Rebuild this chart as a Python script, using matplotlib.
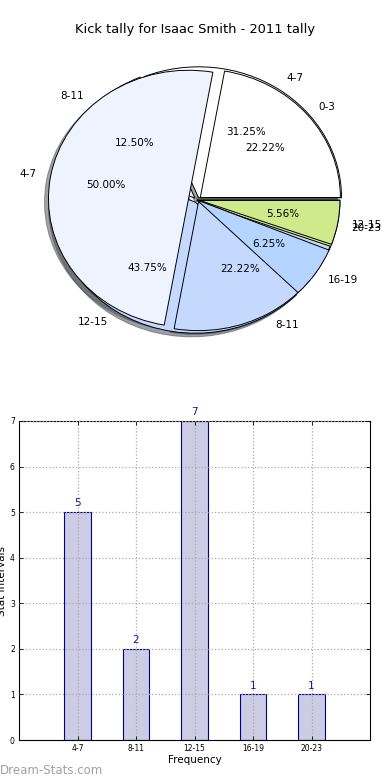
"""Kick tally pie + bar chart (Dream-Stats style)."""

import matplotlib

matplotlib.use("Agg")
import matplotlib.pyplot as plt
from matplotlib.patches import Shadow

# current season, grouped by kick count
bins = ["4-7", "8-11", "12-15", "16-19", "20-23"]
kicks = [5, 2, 7, 1, 1]
bin_colors = ["white", "#e6eeff", "#c5d9ff", "#b5d4ff", "#cfea8b"]

# second tally drawn on the same pie
other_bins = ["0-3", "4-7", "8-11", "12-15"]
other_kicks = [4, 9, 4, 1]
other_colors = ["white", "#eef3ff", "#c5d9ff", "#cfea8b"]

title = "Kick tally for Isaac Smith - 2011 tally"

W, H = 390, 780


def main() -> None:
    fig = plt.figure(figsize=(W / 100, H / 100), dpi=100)
    fig.text(0.5, 1 - 30 / H, title, ha="center", va="center", fontsize=9.4)

    # ---- pie ----
    ax = fig.add_axes([4 / W, 1 - 370.3 / H, 386 / W, 340.6 / H])
    text_kw = {"fontsize": 7.5}
    wa, _, _ = ax.pie(
        kicks,
        labels=bins,
        colors=bin_colors,
        autopct="%1.2f%%",
        explode=[0.02, 0.02, 0.02, 0, 0],
        shadow=True,
        textprops=text_kw,
        wedgeprops={"edgecolor": "black", "linewidth": 0.7, "zorder": 1},
    )
    wb, _, _ = ax.pie(
        other_kicks,
        labels=other_bins,
        colors=other_colors,
        autopct="%1.2f%%",
        explode=[0.03, 0.06, 0.02, 0.02],
        radius=0.98,
        shadow=True,
        textprops=text_kw,
        wedgeprops={"edgecolor": "black", "linewidth": 0.7, "zorder": 2},
    )
    # old renderer stacked the wedges in a mixed order; shadows all sit underneath
    wa[3].set_zorder(3)
    wb[3].set_zorder(3)
    for p in ax.patches:
        if isinstance(p, Shadow):
            p.set_zorder(0.9)
    ax.set_aspect("auto")
    ax.set_xlim(-1.35, 1.35)
    ax.set_ylim(-1.3, 1.3)

    # ---- bars ----
    bx = fig.add_axes([19 / W, 40 / H, 351 / W, 319 / H])
    pos = list(range(len(bins)))
    bars = bx.bar(pos, kicks, width=0.45, color="#ccccE5", edgecolor="#00008b", linewidth=0.8)
    for rect, k in zip(bars, kicks):
        bx.text(rect.get_x() + rect.get_width() / 2, k + 0.08, str(k),
                ha="center", va="bottom", fontsize=7.5, color="#1a1a8c")
    bx.set_xlim(-1, 5)
    bx.set_ylim(0, 7)
    bx.set_xticks(pos)
    bx.set_xticklabels(bins, fontsize=5.5)
    bx.set_yticks(range(8))
    bx.tick_params(axis="y", labelsize=5.5)
    bx.tick_params(direction="in", top=True, right=True, length=3, width=0.6, pad=3)
    bx.set_axisbelow(False)
    bx.grid(True, linestyle=":", color="#aaaaaa", linewidth=0.9)
    bx.set_xlabel("Frequency", fontsize=7.5, labelpad=1)
    bx.set_ylabel("Stat Intervals", fontsize=7.5, labelpad=2)
    for s in bx.spines.values():
        s.set_linewidth(0.8)

    fig.text(0.0, 1 - 770 / H, "Dream-Stats.com", ha="left", va="center",
             fontsize=8.5, color="#a0a0a0")

    fig.savefig("out.png", dpi=100)
    plt.close(fig)


if __name__ == "__main__":
    main()
